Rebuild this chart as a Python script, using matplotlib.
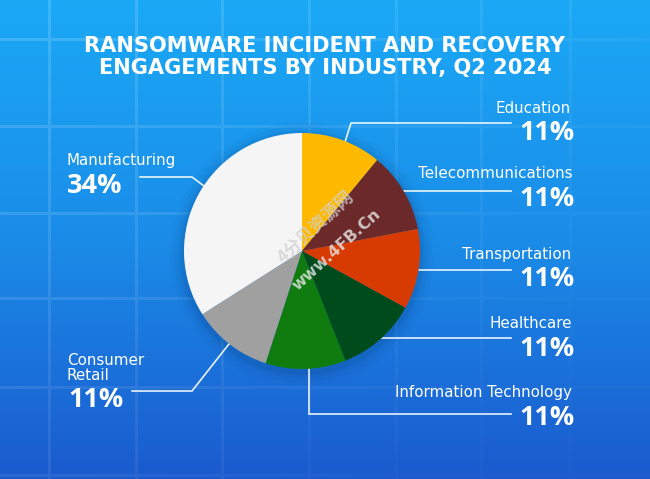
import numpy as np
import matplotlib
matplotlib.use('Agg')
import matplotlib.pyplot as plt
from matplotlib.patches import Circle

plt.rcParams['font.family'] = ['Open Sans', 'Noto Sans CJK SC', 'DejaVu Sans']

title = 'RANSOMWARE INCIDENT AND RECOVERY\nENGAGEMENTS BY INDUSTRY, Q2 2024'

# clockwise from 12 o'clock
industries = ['Education', 'Telecommunications', 'Transportation', 'Healthcare',
              'Information Technology', 'Consumer\nRetail', 'Manufacturing']
shares = [11, 11, 11, 11, 11, 11, 34]
colors = ['#FFB900', '#6B2929', '#D83B01', '#004B1C', '#107C10', '#A0A0A0', '#F5F5F5']

W, H = 650, 479
fig = plt.figure(figsize=(W / 100, H / 100), dpi=100)

# background in pixel coords, y down
bg = fig.add_axes([0, 0, 1, 1])
bg.set_xlim(0, W)
bg.set_ylim(H, 0)
bg.axis('off')

stops = np.array([[0x1A, 0xA9, 0xF6], [0x1A, 0x8C, 0xE8], [0x1B, 0x5A, 0xCE]]) / 255
t = np.linspace(0, 1, H)
gradient = np.stack([np.interp(t, [0, 0.5, 1], stops[:, i]) for i in range(3)], axis=1)[:, None, :]
bg.imshow(gradient, extent=[0, W, H, 0], aspect='auto', zorder=0)

# grid fades out towards the lower right
grid_x = [49, 136, 222, 309, 396, 481, 570]
grid_y = [39, 126, 213, 298, 387, 475]
mask = np.zeros((H, W))
for x in grid_x:
    mask[:, x - 1:x + 2] = 1
for y in grid_y:
    mask[y - 1:y + 2, :] = 1
xx, yy = np.meshgrid(np.arange(W) / W, np.arange(H) / H)
overlay = np.ones((H, W, 4))
overlay[..., 3] = mask * np.clip(0.17 - 0.11 * xx - 0.08 * yy, 0.02, None)
bg.imshow(overlay, extent=[0, W, H, 0], aspect='auto', zorder=1)

# soft shadow behind the pie
for r, a in zip([132, 128, 124, 121], [0.03, 0.05, 0.07, 0.10]):
    bg.add_patch(Circle((302, 254), r, color='#083A78', alpha=a, lw=0, zorder=2))

# leader lines: x, y pixel paths
leaders = [
    [(345, 142), (351, 123), (511, 123)],
    [(403, 191), (511, 191)],
    [(419, 270), (511, 270)],
    [(381, 338), (511, 338)],
    [(309, 369), (309, 414), (511, 414)],
    [(229, 344), (192, 391), (132, 391)],
    [(204, 186), (192, 177), (140, 177)],
]
for path in leaders:
    xs, ys = zip(*path)
    bg.plot(xs, ys, color='white', lw=1.2, alpha=0.9, zorder=3, solid_joinstyle='miter')

# pie, box placed so radius is 118px around (302, 251)
R = 118
ax = fig.add_axes([(302 - R) / W, 1 - (251 + R) / H, 2 * R / W, 2 * R / H])
ax.pie(shares, colors=colors, startangle=90, counterclock=False, radius=1,
       wedgeprops={'linewidth': 0})
ax.set_xlim(-1, 1)
ax.set_ylim(-1, 1)

top = fig.add_axes([0, 0, 1, 1], facecolor='none')
top.set_xlim(0, W)
top.set_ylim(H, 0)
top.axis('off')

# watermark
top.text(336, 250, 'www.4FB.Cn', color='#E8E8E8', alpha=0.8, fontsize=11.5, fontweight='bold',
         family='DejaVu Sans', rotation=42, ha='center', va='center')
top.text(316, 228, '4分贝资源网', color='#D0D0D0', alpha=0.75, fontsize=12.5, fontweight='bold',
         family='Noto Sans CJK SC', rotation=43, ha='center', va='center')

top.text(325, 57, title, color='white', fontsize=15.1, fontweight='bold', family='DejaVu Sans',
         ha='center', va='center', linespacing=1.08)

# label positions: name anchor, then value anchor
name_pos = [(571, 108, 'right'), (573, 174, 'right'), (571, 254, 'right'), (572, 324, 'right'),
            (572, 393, 'right'), (67, 368, 'left'), (67, 161, 'left')]
value_pos = [(575, 133, 'right'), (575, 199, 'right'), (575, 279, 'right'), (575, 349, 'right'),
             (575, 418, 'right'), (68, 400, 'left'), (67, 186, 'left')]

for name, share, (nx, ny, nha), (vx, vy, vha) in zip(industries, shares, name_pos, value_pos):
    top.text(nx, ny, name, color='white', fontsize=10.9, family='DejaVu Sans', ha=nha, va='center',
             linespacing=1.08)
    top.text(vx, vy, '%d%%' % share, color='white', fontsize=19.5, fontweight='bold',
             ha=vha, va='center')

fig.savefig('out.png', dpi=100)
